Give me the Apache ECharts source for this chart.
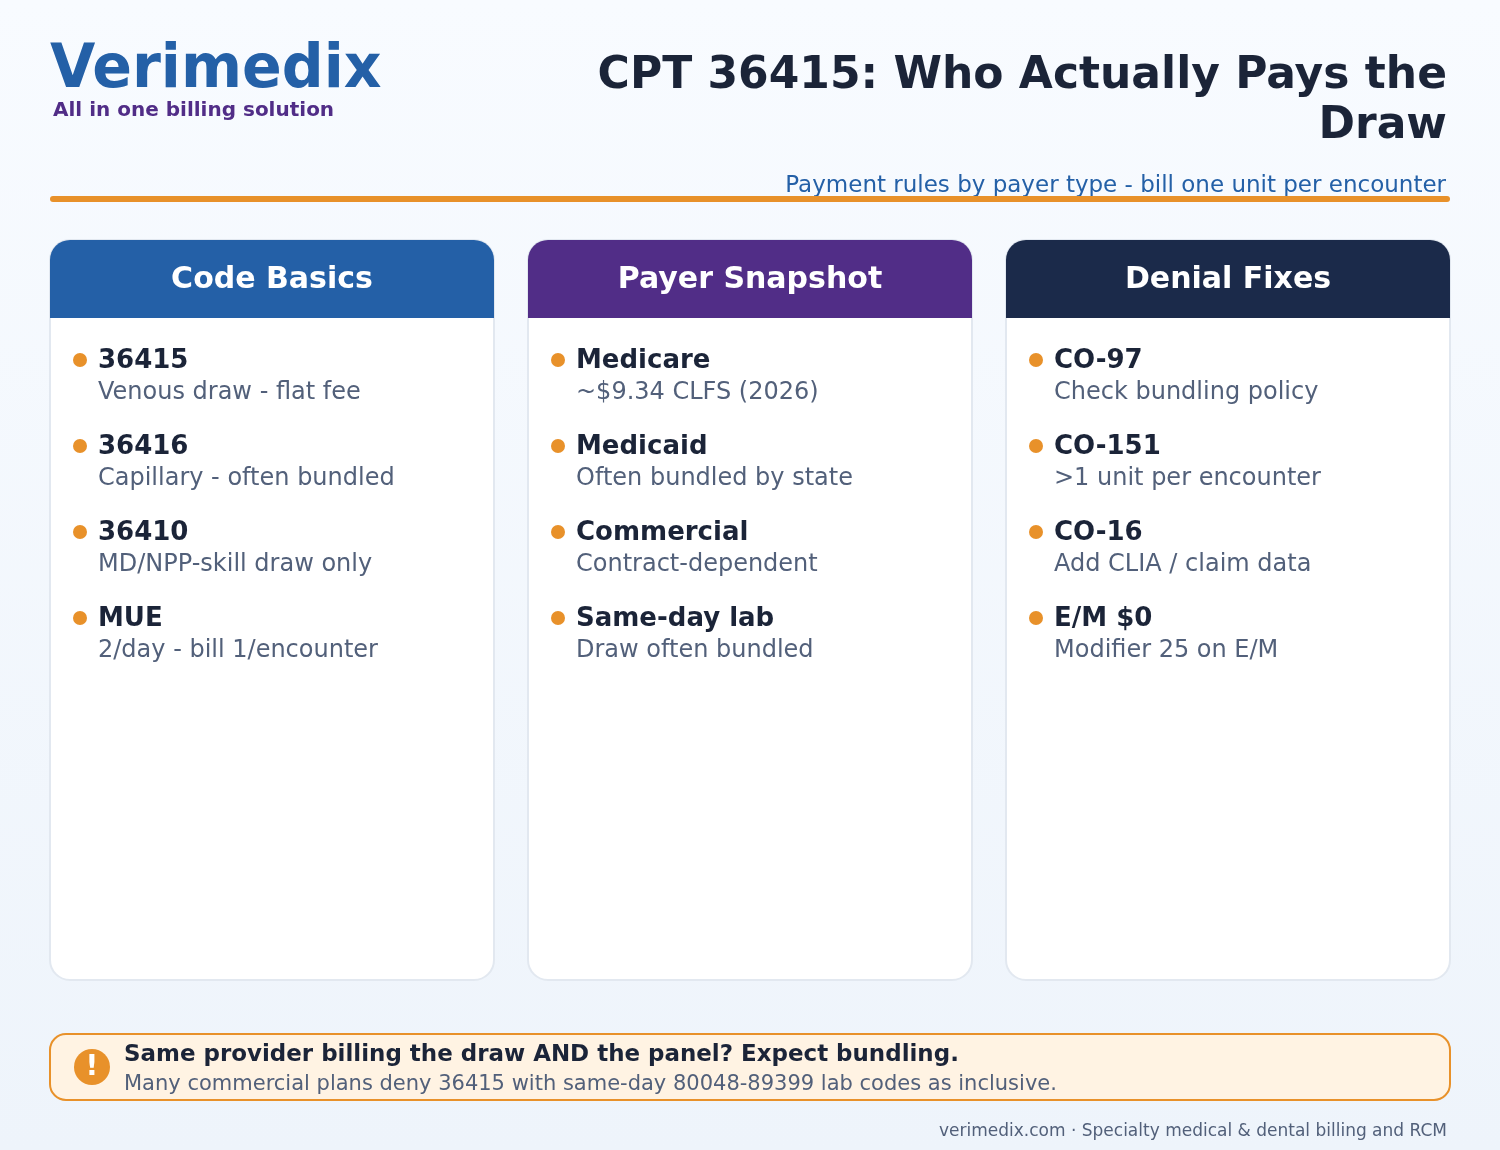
<!DOCTYPE html>
<html>
<head>
<meta charset="utf-8">
<title>CPT 36415</title>
<script src="https://cdn.jsdelivr.net/npm/echarts@6/dist/echarts.min.js"></script>
<style>
  html, body { margin: 0; padding: 0; }
  #main { width: 1500px; height: 1150px; }
</style>
</head>
<body>
<div id="main"></div>
<script>
var cardTitles = ['Code Basics', 'Payer Snapshot', 'Denial Fixes'];
var codeHeads = ['36415', '36416', '36410', 'MUE'];
var codeNotes = ['Venous draw - flat fee', 'Capillary - often bundled', 'MD/NPP-skill draw only', '2/day - bill 1/encounter'];
var payerHeads = ['Medicare', 'Medicaid', 'Commercial', 'Same-day lab'];
var payerNotes = ['~$9.34 CLFS (2026)', 'Often bundled by state', 'Contract-dependent', 'Draw often bundled'];
var denialHeads = ['CO-97', 'CO-151', 'CO-16', 'E/M $0'];
var denialNotes = ['Check bundling policy', '>1 unit per encounter', 'Add CLIA / claim data', 'Modifier 25 on E/M'];
var headerColors = ['#2460A7', '#512D87', '#1B2A4A'];
var titleLines = ['CPT 36415: Who Actually Pays the', 'Draw'];

var FONT = '"DejaVu Sans", sans-serif';
var chart = echarts.init(document.getElementById('main'));
var els = [];

// y is the text baseline, zrender centres on the line box so shift up by a part of the size
function txt(x, y, str, size, weight, color, align, sx) {
    els.push({
        type: 'text',
        x: x,
        y: y - size * 0.275,
        scaleX: sx || 1,
        silent: true,
        style: {
            text: str,
            font: weight + ' ' + size + 'px ' + FONT,
            fill: color,
            align: align || 'left',
            verticalAlign: 'middle'
        }
    });
}

function rect(x, y, w, h, r, fill, stroke, lw) {
    els.push({
        type: 'rect',
        silent: true,
        shape: { x: x, y: y, width: w, height: h, r: r },
        style: { fill: fill, stroke: stroke || null, lineWidth: lw || 0 }
    });
}

function dot(cx, cy, r, fill) {
    els.push({
        type: 'circle',
        silent: true,
        shape: { cx: cx, cy: cy, r: r },
        style: { fill: fill }
    });
}

// page background
els.push({
    type: 'rect',
    silent: true,
    shape: { x: 0, y: 0, width: 1500, height: 1150 },
    style: {
        fill: new echarts.graphic.LinearGradient(0, 0, 0, 1, [
            { offset: 0, color: '#F8FBFF' },
            { offset: 1, color: '#EEF4FB' }
        ])
    }
});

// header, the wordmark is tighter than the plain font so squeeze it a little
txt(50, 88, 'Verimedix', 60, 'bold', '#2460A7', 'left', 0.977);
txt(53, 116, 'All in one billing solution', 20, 'bold', '#512D87');
txt(1447, 89, titleLines[0], 44, 'bold', '#1B2438', 'right');
txt(1447, 139, titleLines[1], 44, 'bold', '#1B2438', 'right');
txt(1446, 192, 'Payment rules by payer type - bill one unit per encounter', 23, 'normal', '#2460A7', 'right');
rect(50, 196, 1400, 6, 3, '#E8912A');

// cards
var heads = [codeHeads, payerHeads, denialHeads];
var notes = [codeNotes, payerNotes, denialNotes];
cardTitles.forEach(function (title, i) {
    var x = 50 + i * 478;
    rect(x, 240, 444, 740, 20, '#FFFFFF', '#E2E8F0', 2);
    rect(x, 240, 444, 78, [20, 20, 0, 0], headerColors[i]);
    txt(x + 222, 288, title, 30, 'bold', '#FFFFFF', 'center');
    heads[i].forEach(function (h, j) {
        var top = j * 86;
        dot(x + 30, 360 + top, 7, '#E8912A');
        txt(x + 48, 368 + top, h, 26, 'bold', '#1B2438');
        txt(x + 48, 399 + top, notes[i][j], 24, 'normal', '#52607A');
    });
});

// callout
rect(50, 1034, 1400, 66, 16, '#FFF3E3', '#E8912A', 2);
dot(92, 1067, 18, '#E8912A');
txt(92, 1075, '!', 28, 'bold', '#FFFFFF', 'center');
txt(124, 1061, 'Same provider billing the draw AND the panel? Expect bundling.', 23, 'bold', '#1B2438', 'left', 0.998);
txt(124, 1090, 'Many commercial plans deny 36415 with same-day 80048-89399 lab codes as inclusive.', 21, 'normal', '#52607A');

// footer
txt(1447, 1136, 'verimedix.com \u00b7 Specialty medical & dental billing and RCM', 17, 'normal', '#52607A', 'right');

chart.setOption({
    animation: false,
    graphic: { elements: els }
});
</script>
</body>
</html>
